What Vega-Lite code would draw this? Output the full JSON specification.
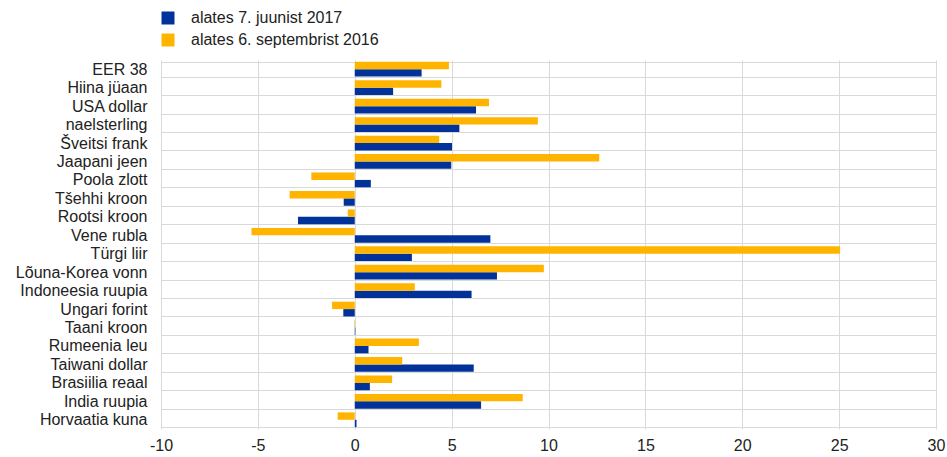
{
  "$schema": "https://vega.github.io/schema/vega-lite/v6.json",
  "autosize": {"type": "none"},
  "width": 775,
  "height": 369,
  "padding": {"left": 161, "top": 60, "right": 11, "bottom": 28},
  "background": "white",
  "config": {
    "view": {"stroke": null},
    "font": "Liberation Sans",
    "axis": {"labelFont": "Liberation Sans", "labelFontSize": 16, "labelColor": "#222222", "gridColor": "#d9d9d9", "gridWidth": 1, "domain": false, "ticks": false, "title": null}
  },
  "data": {"values": [
    {"c": "EER 38", "s": "alates 7. juunist 2017", "v": 3.45},
    {"c": "EER 38", "s": "alates 6. septembrist 2016", "v": 4.86},
    {"c": "Hiina jüaan", "s": "alates 7. juunist 2017", "v": 1.98},
    {"c": "Hiina jüaan", "s": "alates 6. septembrist 2016", "v": 4.47},
    {"c": "USA dollar", "s": "alates 7. juunist 2017", "v": 6.26},
    {"c": "USA dollar", "s": "alates 6. septembrist 2016", "v": 6.93},
    {"c": "naelsterling", "s": "alates 7. juunist 2017", "v": 5.40},
    {"c": "naelsterling", "s": "alates 6. septembrist 2016", "v": 9.45},
    {"c": "Šveitsi frank", "s": "alates 7. juunist 2017", "v": 5.02},
    {"c": "Šveitsi frank", "s": "alates 6. septembrist 2016", "v": 4.36},
    {"c": "Jaapani jeen", "s": "alates 7. juunist 2017", "v": 4.98},
    {"c": "Jaapani jeen", "s": "alates 6. septembrist 2016", "v": 12.62},
    {"c": "Poola zlott", "s": "alates 7. juunist 2017", "v": 0.83},
    {"c": "Poola zlott", "s": "alates 6. septembrist 2016", "v": -2.24},
    {"c": "Tšehhi kroon", "s": "alates 7. juunist 2017", "v": -0.57},
    {"c": "Tšehhi kroon", "s": "alates 6. septembrist 2016", "v": -3.36},
    {"c": "Rootsi kroon", "s": "alates 7. juunist 2017", "v": -2.93},
    {"c": "Rootsi kroon", "s": "alates 6. septembrist 2016", "v": -0.36},
    {"c": "Vene rubla", "s": "alates 7. juunist 2017", "v": 7.0},
    {"c": "Vene rubla", "s": "alates 6. septembrist 2016", "v": -5.33},
    {"c": "Türgi liir", "s": "alates 7. juunist 2017", "v": 2.95},
    {"c": "Türgi liir", "s": "alates 6. septembrist 2016", "v": 25.05},
    {"c": "Lõuna-Korea vonn", "s": "alates 7. juunist 2017", "v": 7.34},
    {"c": "Lõuna-Korea vonn", "s": "alates 6. septembrist 2016", "v": 9.76},
    {"c": "Indoneesia ruupia", "s": "alates 7. juunist 2017", "v": 6.03},
    {"c": "Indoneesia ruupia", "s": "alates 6. septembrist 2016", "v": 3.10},
    {"c": "Ungari forint", "s": "alates 7. juunist 2017", "v": -0.59},
    {"c": "Ungari forint", "s": "alates 6. septembrist 2016", "v": -1.17},
    {"c": "Taani kroon", "s": "alates 7. juunist 2017", "v": 0.03},
    {"c": "Taani kroon", "s": "alates 6. septembrist 2016", "v": -0.03},
    {"c": "Rumeenia leu", "s": "alates 7. juunist 2017", "v": 0.71},
    {"c": "Rumeenia leu", "s": "alates 6. septembrist 2016", "v": 3.31},
    {"c": "Taiwani dollar", "s": "alates 7. juunist 2017", "v": 6.14},
    {"c": "Taiwani dollar", "s": "alates 6. septembrist 2016", "v": 2.45},
    {"c": "Brasiilia reaal", "s": "alates 7. juunist 2017", "v": 0.78},
    {"c": "Brasiilia reaal", "s": "alates 6. septembrist 2016", "v": 1.93},
    {"c": "India ruupia", "s": "alates 7. juunist 2017", "v": 6.52},
    {"c": "India ruupia", "s": "alates 6. septembrist 2016", "v": 8.67},
    {"c": "Horvaatia kuna", "s": "alates 7. juunist 2017", "v": 0.09},
    {"c": "Horvaatia kuna", "s": "alates 6. septembrist 2016", "v": -0.88}
  ]},
  "mark": {"type": "bar"},
  "encoding": {
    "y": {
      "field": "c", "type": "nominal", "sort": null,
      "scale": {"paddingInner": 0.2, "paddingOuter": 0.1},
      "axis": {"grid": true, "tickBand": "extent", "labelPadding": 14, "labelLimit": 300}
    },
    "yOffset": {
      "field": "s", "type": "nominal",
      "sort": ["alates 6. septembrist 2016", "alates 7. juunist 2017"]
    },
    "x": {
      "field": "v", "type": "quantitative",
      "scale": {"domain": [-10, 30], "nice": false, "zero": false},
      "axis": {"values": [-10, -5, 0, 5, 10, 15, 20, 25, 30], "grid": true, "labelPadding": 8, "labelFlush": false,
        "labelExpr": "datum.value < 0 ? '-' + abs(datum.value) : '' + datum.value"}
    },
    "color": {
      "field": "s", "type": "nominal",
      "scale": {"domain": ["alates 7. juunist 2017", "alates 6. septembrist 2016"], "range": ["#003299", "#FFB400"]},
      "legend": {
        "title": null, "orient": "none", "legendX": -1, "legendY": -50,
        "symbolType": "square", "symbolSize": 169, "symbolStrokeWidth": 0,
        "labelFontSize": 16, "labelFont": "Liberation Sans", "labelColor": "#222222", "labelLimit": 400,
        "labelOffset": 15, "rowPadding": 6
      }
    }
  }
}
